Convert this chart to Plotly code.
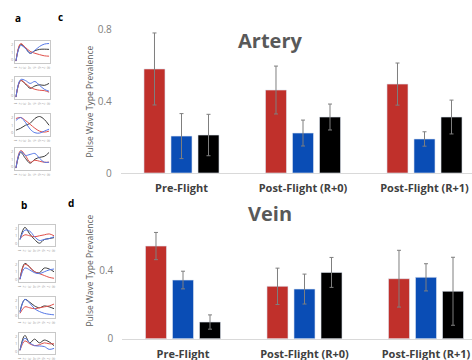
import plotly.graph_objects as go

W, H = 472, 360

# ---------------- data ----------------
categories = ["Pre-Flight", "Post-Flight (R+0)", "Post-Flight (R+1)"]
series_names = ["Type 1", "Type 2", "Type 3"]

artery_red = [0.578, 0.461, 0.494]
artery_red_err = [0.20, 0.133, 0.117]
artery_blue = [0.205, 0.222, 0.189]
artery_blue_err = [0.125, 0.072, 0.040]
artery_black = [0.211, 0.311, 0.311]
artery_black_err = [0.115, 0.072, 0.094]

vein_red = [0.545, 0.308, 0.353]
vein_red_err = [0.080, 0.107, 0.167]
vein_blue = [0.345, 0.292, 0.361]
vein_blue_err = [0.052, 0.088, 0.080]
vein_black = [0.098, 0.390, 0.279]
vein_black_err = [0.042, 0.088, 0.200]

artery_ticks = [0, 0.4, 0.8]
vein_ticks = [0, 0.4]

wave_x = [1, 2, 3, 4, 5, 6, 7, 8]
a_red = [
    [0.05, 0.95, 0.75, 0.55, 0.45, 0.38, 0.32, 0.30],
    [0.05, 0.90, 0.75, 0.55, 0.45, 0.40, 0.38, 0.30],
    [0.85, 0.90, 0.75, 0.55, 0.35, 0.20, 0.15, 0.20],
    [0.05, 0.95, 0.70, 0.35, 0.45, 0.40, 0.35, 0.35],
]
a_blue = [
    [0.05, 0.85, 0.70, 0.45, 0.60, 0.80, 0.92, 0.95],
    [0.05, 0.95, 0.90, 0.75, 0.85, 0.65, 0.45, 0.35],
    [0.75, 0.90, 0.65, 0.30, 0.12, 0.10, 0.20, 0.30],
    [0.05, 0.90, 0.70, 0.75, 0.80, 0.55, 0.35, 0.35],
]
a_black = [
    [0.05, 0.90, 0.72, 0.45, 0.58, 0.65, 0.66, 0.65],
    [0.05, 0.90, 0.72, 0.50, 0.62, 0.68, 0.65, 0.75],
    [0.25, 0.35, 0.50, 0.60, 0.85, 0.95, 0.80, 0.50],
    [0.05, 0.85, 0.55, 0.30, 0.50, 0.60, 0.65, 0.85],
]
b_red = [
    [0.35, 0.55, 0.50, 0.45, 0.50, 0.55, 0.60, 0.50],
    [0.10, 0.90, 0.75, 0.50, 0.40, 0.30, 0.20, 0.15],
    [0.20, 0.55, 0.50, 0.45, 0.50, 0.55, 0.60, 0.70],
    [0.15, 0.65, 0.50, 0.40, 0.45, 0.55, 0.50, 0.50],
]
b_blue = [
    [0.30, 0.80, 0.75, 0.45, 0.25, 0.30, 0.35, 0.45],
    [0.10, 0.70, 0.60, 0.45, 0.40, 0.50, 0.60, 0.65],
    [0.25, 0.95, 0.75, 0.45, 0.30, 0.20, 0.15, 0.12],
    [0.15, 0.80, 0.55, 0.40, 0.38, 0.35, 0.20, 0.25],
]
b_black = [
    [0.30, 0.95, 0.60, 0.30, 0.10, 0.30, 0.35, 0.40],
    [0.10, 0.95, 0.75, 0.50, 0.45, 0.70, 0.65, 0.50],
    [0.30, 0.95, 0.80, 0.60, 0.50, 0.60, 0.55, 0.45],
    [0.15, 0.95, 0.55, 0.75, 0.55, 0.70, 0.60, 0.40],
]

# ---------------- styles ----------------
RED = "#c0302b"
BLUE = "#0a4db5"
BLACK = "#000000"
LRED = "#e0504a"
LBLUE = "#5577e6"
LBLACK = "#3a3a3a"
FONT = "Open Sans"


def px(x):
    return x / W


def py(y):
    return 1 - y / H


fig = go.Figure()


def add_bars(xa, ya, vals, errs):
    for name, v, e, c in zip(series_names, vals, errs, [RED, BLUE, BLACK]):
        fig.add_trace(go.Bar(
            x=categories, y=v, name=name, marker=dict(color=c, line=dict(width=0.6, color="#dfe6f2")),
            error_y=dict(type="data", array=e, visible=True, color="#7f7f7f", thickness=1, width=2),
            xaxis=xa, yaxis=ya, showlegend=False,
        ))


add_bars("x", "y", [artery_red, artery_blue, artery_black],
         [artery_red_err, artery_blue_err, artery_black_err])
add_bars("x2", "y2", [vein_red, vein_blue, vein_black],
         [vein_red_err, vein_blue_err, vein_black_err])

layout = dict(
    width=W, height=H, margin=dict(l=0, r=0, t=0, b=0, autoexpand=False),
    paper_bgcolor="white", plot_bgcolor="white",
    barmode="group", bargap=0.333, bargroupgap=0.222,
    font=dict(family=FONT),
)


def bar_x(left, group_px):
    span = W - left
    return dict(
        domain=[px(left), 1.0], type="category",
        range=[-0.5, -0.5 + span / group_px],
        showline=True, linecolor="#d9d9d9", linewidth=1,
        showgrid=False, zeroline=False, ticks="",
        tickfont=dict(size=11, color="#404040", family=FONT, weight="bold"),
        ticklabelstandoff=5, fixedrange=True, automargin=False,
    )


def bar_y(y0, y1, rng, tv, anchor):
    return dict(
        domain=[py(y0), py(y1)], range=rng, anchor=anchor,
        showline=False, showgrid=False, zeroline=False,
        tickvals=tv, ticktext=[("0" if t == 0 else str(t)) for t in tv],
        tickfont=dict(size=10, color="#808080", family=FONT),
        ticks="", ticklabelstandoff=8, fixedrange=True, automargin=False,
    )


layout["xaxis"] = dict(bar_x(120.75, 121.5), anchor="y")
layout["yaxis"] = bar_y(173, 29, [0, 0.8], artery_ticks, "x")
layout["xaxis2"] = dict(bar_x(122.25, 121.5), anchor="y2")
layout["yaxis2"] = bar_y(338.7, 338.7 - 0.7 * 170, [0, 0.7], vein_ticks, "x2")

# small waveform panels
a_boxes = [(15, 50, 41, 63), (15, 50, 77, 99), (15, 50, 114, 136), (15, 50, 148, 170)]
b_boxes = [(19, 55, 225, 246), (19, 55, 261, 282), (19, 55, 297, 318), (19, 55, 333, 354)]

idx = 3
for boxes, reds, blues, blacks in [(a_boxes, a_red, a_blue, a_black), (b_boxes, b_red, b_blue, b_black)]:
    for (x0, x1, y0, y1), r, bl, bk in zip(boxes, reds, blues, blacks):
        xa, ya = f"x{idx}", f"y{idx}"
        for vals, col in [(bk, LBLACK), (r, LRED), (bl, LBLUE)]:
            fig.add_trace(go.Scatter(
                x=wave_x, y=vals, mode="lines", line=dict(color=col, width=1, shape="spline"),
                xaxis=xa, yaxis=ya, showlegend=False, hoverinfo="skip",
            ))
        layout[f"xaxis{idx}"] = dict(
            domain=[px(x0), px(x1)], range=[0.8, 8.2], anchor=ya,
            showline=True, mirror=True, linecolor="#c8c8c8", linewidth=0.6,
            showgrid=False, zeroline=False, ticks="", tickvals=wave_x,
            tickfont=dict(size=4, color="#9a9a9a"), fixedrange=True, automargin=False,
        )
        layout[f"yaxis{idx}"] = dict(
            domain=[py(y1), py(y0)], range=[-0.05, 1.08], anchor=xa,
            showline=True, mirror=True, linecolor="#c8c8c8", linewidth=0.6,
            showgrid=False, zeroline=False, ticks="", tickvals=[0.1, 0.5, 0.9],
            ticktext=["0", "1", "2"],
            tickfont=dict(size=4, color="#9a9a9a"), fixedrange=True, automargin=False,
        )
        idx += 1

fig.update_layout(**layout)

ann = []


def add_text(x, y, text, size, color, bold=False, angle=0):
    ann.append(dict(
        x=px(x), y=py(y), xref="paper", yref="paper", text=text, showarrow=False,
        xanchor="center", yanchor="middle", textangle=angle,
        font=dict(size=size, color=color, family=FONT, weight="bold" if bold else "normal"),
    ))


add_text(270, 40, "Artery", 20, "#595959", bold=True)
add_text(270, 213, "Vein", 20, "#595959", bold=True)
add_text(89, 101.5, "Pulse Wave Type Prevalence", 8.5, "#595959", bold=False, angle=-90)
add_text(89, 270.5, "Pulse Wave Type Prevalence", 8.5, "#595959", bold=False, angle=-90)
add_text(18, 17.5, "a", 10, "#000000", bold=True)
add_text(61, 17, "c", 10, "#000000", bold=True)
add_text(23.5, 205, "b", 10, "#000000", bold=True)
add_text(70.5, 203, "d", 10, "#000000", bold=True)

fig.update_layout(annotations=ann)
fig.write_html(
    "out.html",
    config={"displayModeBar": False},
    post_script="document.body.style.margin='0';document.body.style.overflow='hidden';",
)
